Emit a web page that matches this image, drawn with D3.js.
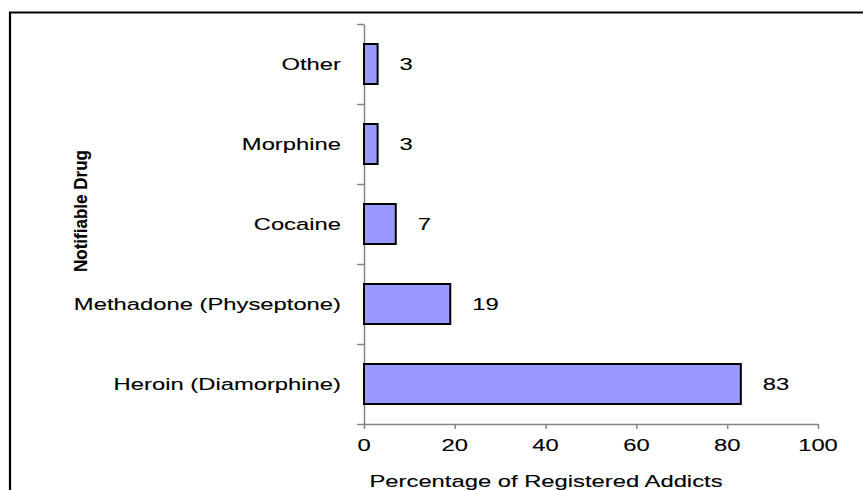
<!DOCTYPE html>
<html>
<head>
<meta charset="utf-8">
<script src="https://cdn.jsdelivr.net/npm/d3@7"></script>
<style>
  body { margin: 0; background: #fff; }
  svg { display: block; }
  text { font-family: "Liberation Sans", Arial, sans-serif; fill: #000; stroke: #000; stroke-width: 0.12px; }
</style>
</head>
<body>
<svg></svg>
<script>
// chart data, top to bottom
var drugs = ['Other', 'Morphine', 'Cocaine', 'Methadone (Physeptone)', 'Heroin (Diamorphine)']
var percents = [3, 3, 7, 19, 83]
var xTicks = [0, 20, 40, 60, 80, 100]
var xTitle = 'Percentage of Registered Addicts'
var yTitle = 'Notifiable Drug'

var width = 863
var height = 490
// text in the picture is drawn wider than tall
var stretch = 1.4

var svg = d3.select('svg')
    .attr('width', width)
    .attr('height', height)

// frame lines on top and left
svg.append('path')
    .attr('d', d3.line()([[10, 490], [10, 12.5], [863, 12.5]]))
    .attr('fill', 'none')
    .attr('stroke', '#000')
    .attr('stroke-width', 2.2)

var finalData = drugs.map((d, i) => ({drug: d, value: percents[i]}))

var xScale = d3.scaleLinear()
    .domain([0, 100])
    .range([364, 818])

var yScale = d3.scaleBand()
    .domain(drugs)
    .range([24, 424])
    .paddingInner(0.5)
    .paddingOuter(0.25)

// band boundaries for the y tick marks
var yEdges = d3.scaleLinear()
    .domain([0, drugs.length])
    .range([24, 424])

var axisColor = '#858585'

var yGuide = svg.append('g')
    .attr('transform', 'translate(364,0)')
    .call(d3.axisLeft(yEdges).ticks(drugs.length).tickFormat('').tickSize(7).tickSizeOuter(0))
yGuide.select('.domain').attr('stroke', axisColor).attr('stroke-width', 1.5)
yGuide.selectAll('line').attr('stroke', axisColor).attr('stroke-width', 1.5)

var xGuide = svg.append('g')
    .attr('transform', 'translate(0,424)')
    .call(d3.axisBottom(xScale).tickValues(xTicks).tickFormat('').tickSize(5).tickSizeOuter(0))
xGuide.select('.domain').attr('stroke', axisColor).attr('stroke-width', 1.5)
xGuide.selectAll('line').attr('stroke', axisColor).attr('stroke-width', 1.5)

// x tick labels
svg.append('g').selectAll('text')
    .data(xTicks)
    .enter()
    .append('text')
    .attr('transform', d => `translate(${xScale(d)},451) scale(${stretch},1)`)
    .attr('text-anchor', 'middle')
    .style('font-size', '17px')
    .text(d => d)

// bars
svg.append('g').selectAll('rect')
    .data(finalData)
    .enter()
    .append('rect')
    .attr('x', xScale(0))
    .attr('y', d => yScale(d.drug))
    .attr('width', d => xScale(d.value) - xScale(0))
    .attr('height', yScale.bandwidth())
    .attr('fill', '#9999ff')
    .attr('stroke', '#000')
    .attr('stroke-width', 2)

// category labels
svg.append('g').selectAll('text')
    .data(finalData)
    .enter()
    .append('text')
    .attr('transform', d => `translate(341,${yScale(d.drug) + yScale.bandwidth() / 2 + 6}) scale(${stretch},1)`)
    .attr('text-anchor', 'end')
    .style('font-size', '17px')
    .text(d => d.drug)

// value labels
svg.append('g').selectAll('text')
    .data(finalData)
    .enter()
    .append('text')
    .attr('transform', d => `translate(${xScale(d.value) + 22},${yScale(d.drug) + yScale.bandwidth() / 2 + 6}) scale(${stretch},1)`)
    .attr('text-anchor', 'start')
    .style('font-size', '17px')
    .text(d => d.value)

// axis titles
svg.append('text')
    .attr('transform', `translate(546,487) scale(${stretch},1)`)
    .attr('text-anchor', 'middle')
    .style('font-size', '17px')
    .text(xTitle)

svg.append('text')
    .attr('transform', 'translate(87,211) rotate(-90)')
    .attr('text-anchor', 'middle')
    .attr('textLength', 122)
    .attr('lengthAdjust', 'spacingAndGlyphs')
    .style('font-size', '19px')
    .style('font-weight', 'bold')
    .text(yTitle)
</script>
</body>
</html>
